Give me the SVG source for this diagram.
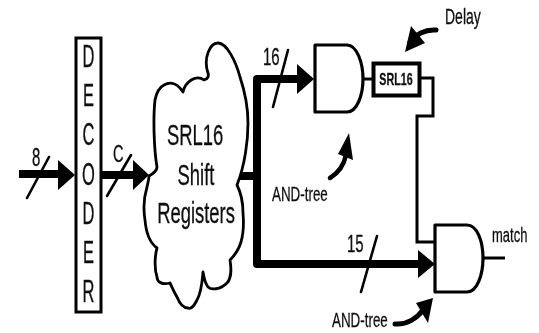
<svg xmlns="http://www.w3.org/2000/svg" width="539" height="333" viewBox="0 0 539 333">
<style>
text{font-family:"Liberation Sans",Arial,sans-serif;fill:#111;stroke:#111;stroke-width:.2}
.bus{fill:none;stroke:#000;stroke-width:8;stroke-linejoin:round;stroke-linecap:round}
.w{fill:none;stroke:#000;stroke-width:3;stroke-linejoin:miter}
.sl{stroke:#000;stroke-width:2.6;stroke-linecap:round}
.g{fill:#fff;stroke:#000;stroke-width:3.2;stroke-linejoin:round}
.h{fill:#000;stroke:none}
</style>
<defs><filter id="soft" x="0" y="0" width="100%" height="100%"><feGaussianBlur stdDeviation="0.45"/></filter></defs>
<g filter="url(#soft)">
<g id="connectors">
<path class="bus" d="M19 174H60"/><polygon class="h" points="58,160 75,175 58,190"/>
<line class="sl" x1="49" y1="157" x2="27" y2="198"/>
<path class="bus" d="M103 175H136"/><polygon class="h" points="133,160 149,175 133,190"/>
<line class="sl" x1="131" y1="155" x2="107" y2="196"/>
<path class="bus" d="M236 176H257M299 79H257V264H421"/>
<polygon class="h" points="297,64 314,79 297,94"/>
<polygon class="h" points="418,250 435,264 418,278"/>
<line class="sl" x1="288" y1="50" x2="273" y2="107"/>
<line class="sl" x1="377" y1="236" x2="361" y2="292"/>
<path class="w" d="M363 79H372M421 78H433V116H417V242H436"/>
<path class="w" d="M483 258H505"/>
<path d="M436 30C425 29 415 35 410 42" fill="none" stroke="#000" stroke-width="5" stroke-linecap="round"/>
<polygon class="h" points="405,52 411,26 425,43"/>
<path d="M330 178C338 173 344 165 346 155" fill="none" stroke="#000" stroke-width="4.500" stroke-linecap="round"/>
<polygon class="h" points="349,133 338,154 353,160"/>
<path d="M395 324C407 325 417 318 423 310" fill="none" stroke="#000" stroke-width="5" stroke-linecap="round"/>
<polygon class="h" points="433,298 416,303 428,323"/>
</g>
<g id="decoder">
<rect x="76" y="38" width="25" height="274" fill="#fff" stroke="#000" stroke-width="3"/>
<g font-size="16.500" text-anchor="middle">
<text transform="translate(88.500,67) scale(1,1.9)">D</text>
<text transform="translate(88.500,106) scale(1,1.9)">E</text>
<text transform="translate(88.500,145) scale(1,1.9)">C</text>
<text transform="translate(88.500,185) scale(1,1.9)">O</text>
<text transform="translate(88.500,224) scale(1,1.9)">D</text>
<text transform="translate(88.500,263) scale(1,1.9)">E</text>
<text transform="translate(88.500,302) scale(1,1.9)">R</text>
</g>
</g>
<g id="cloud">
<path d="M149 176C154 173 157 171 157 167C154 150 153 118 155 100C157 90 160 87 164 85C171 81 178 84 183 92C185 82 196 74 204 80C208 79 209 76 208 73C203 58 210 43 218 43C227 43 236 62 240 77C246 95 248 110 248 123C248 140 245 165 237 185C241 193 243 205 243 213C244 225 244 232 241 242C238 252 233 257 230 260C232 272 230 280 227 283C220 290 211 290 208 287C205 283 204 278 203 272C202 285 200 295 197 300C193 308 190 309 188 308C183 308 179 302 177 297C174 292 172 287 170 283C162 285 157 282 157 277C154 268 155 255 157 248C150 243 146 232 145 220C143 208 144 197 147 187C148 182 149 179 149 176Z" fill="#fff" stroke="#000" stroke-width="2.800" stroke-linejoin="round"/>
<g font-size="18.400" text-anchor="middle">
<text transform="translate(195,145) scale(1,1.6)">SRL16</text>
<text transform="translate(196,185) scale(1,1.6)">Shift</text>
<text transform="translate(196,223) scale(1,1.6)">Registers</text>
</g>
</g>
<g id="and1"><path class="g" d="M315 45H347C357 45 363 63 363 79C363 95 357 112 347 112H315Z"/></g>
<g id="srl"><rect x="373.500" y="63.500" width="46" height="32" fill="#fff" stroke="#000" stroke-width="4"/>
<text transform="translate(396,85) scale(1,1.6)" font-size="10.700" font-weight="bold" text-anchor="middle">SRL16</text></g>
<g id="and2"><path class="g" d="M435 225H467C477 225 483 241 483 258C483 275 477 292 467 292H435Z"/></g>
<g id="labels">
<text transform="translate(32,166) scale(1,1.7)" font-size="15">8</text>
<text transform="translate(113,162) scale(1,1.6)" font-size="14.500">C</text>
<text transform="translate(263,65) scale(1,1.6)" font-size="15">16</text>
<text transform="translate(347,252) scale(1,1.6)" font-size="15">15</text>
<text transform="translate(445,24) scale(1,1.55)" font-size="14">Delay</text>
<text transform="translate(272,201) scale(1,1.45)" font-size="13.400">AND-tree</text>
<text transform="translate(332,327) scale(1,1.45)" font-size="13.400">AND-tree</text>
<text transform="translate(492,242) scale(1,1.5)" font-size="13">match</text>
</g>
</g>
</svg>
